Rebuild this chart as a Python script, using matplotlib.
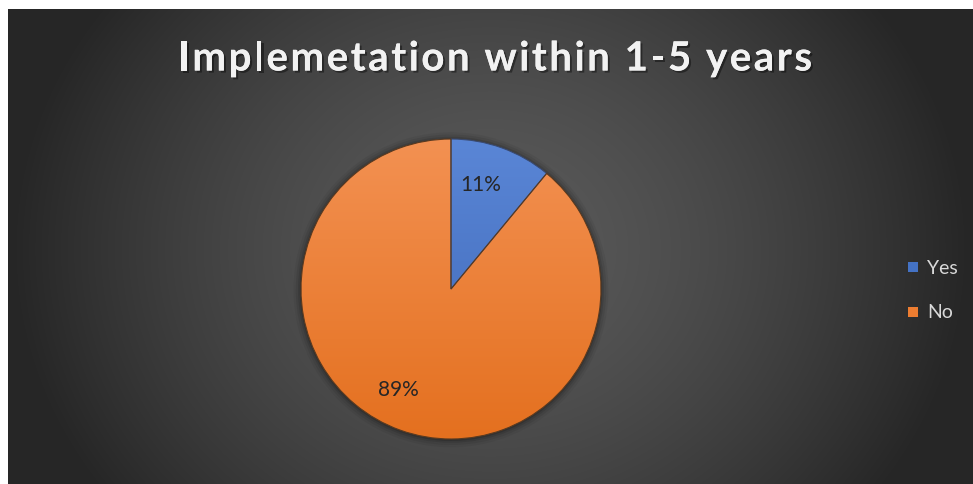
import numpy as np
import matplotlib
matplotlib.use("Agg")
import matplotlib.pyplot as plt
import matplotlib.patheffects as pe
from matplotlib.colors import LinearSegmentedColormap, to_rgb
from matplotlib.font_manager import FontProperties

title = "Implemetation within 1-5 years"
labels = ["Yes", "No"]
values = [11, 89]
colors = ["#4472C4", "#ED7D31"]
top_colors = ["#5A86D6", "#F39152"]
bot_colors = ["#3C66B6", "#E4701F"]

W, H = 973, 485
fig = plt.figure(figsize=(W / 100, H / 100), dpi=100)
fig.patch.set_facecolor("white")

# background panel with radial gradient
x0, y0 = 8, 0
bw, bh = W - 8, H - 10
bg = fig.add_axes([x0 / W, y0 / H, bw / W, bh / H])
bg.set_axis_off()
xx, yy = np.meshgrid(np.arange(bw), np.arange(bh))
cx, cy = 482, 240
d = np.sqrt(((xx - cx) / 480.0) ** 2 + ((yy - cy) / 420.0) ** 2)
c = 38 + 52 * np.clip(1 - d ** 1.5, 0, 1)
img = np.dstack([c, c, c]) / 255.0
bg.imshow(img, extent=[0, bw, 0, bh], aspect="auto", origin="upper")
bg.set_xlim(0, bw)
bg.set_ylim(0, bh)

# pie axes: center (451, 290) px from top, radius 150
R = 150
pcx, pcy = 451, 290
ax = fig.add_axes([(pcx - R) / W, (H - pcy - R) / H, 2 * R / W, 2 * R / H])
ax.set_axis_off()

# soft shadow
for rr, a in [(1.05, 0.05), (1.035, 0.07), (1.02, 0.1), (1.008, 0.15)]:
    ax.add_patch(plt.Circle((0.0, -0.005), rr, color="black", alpha=a, lw=0, zorder=0, clip_on=False))

wedges, texts = ax.pie(values, colors=colors, startangle=90, counterclock=False,
                       radius=1.0, wedgeprops=dict(linewidth=0.8, edgecolor="#5a3a20"))
wedges[0].set_edgecolor("#3a4a70")
for w, tc, bc in zip(wedges, top_colors, bot_colors):
    cmap = LinearSegmentedColormap.from_list("g", [to_rgb(bc), to_rgb(tc)])
    grad = np.linspace(0, 1, 256).reshape(-1, 1)
    im = ax.imshow(grad, extent=[-1, 1, -1, 1], origin="lower", cmap=cmap,
                   aspect="auto", zorder=1.5)
    im.set_clip_path(w)
    w.set_zorder(2)
    w.set_facecolor("none")

ax.set_xlim(-1, 1)
ax.set_ylim(-1, 1)
ax.set_aspect("auto")

# data labels
lab_font = dict(family="Lato", fontsize=15, color="#262626", ha="center", va="center", zorder=5)
fig.text(481 / W, 1 - 185 / H, f"{values[0]}%", **lab_font)
fig.text(398 / W, 1 - 390 / H, f"{values[1]}%", **lab_font)

# legend
for lab, col, ypx in zip(labels, colors, [268, 313]):
    sq = 10
    fig.patches.append(plt.Rectangle(((913 - sq / 2) / W, (H - ypx - sq / 2) / H), sq / W, sq / H,
                                     transform=fig.transFigure, facecolor=col, edgecolor="none",
                                     figure=fig))
    fig.text(927 / W, 1 - ypx / H, lab, family="Lato", fontsize=14, color="#D9D9D9",
             ha="left", va="center")

# title with letter spacing
fp = FontProperties(family="Lato", weight="bold", size=29)
renderer = fig.canvas.get_renderer()

def width(s):
    if not s:
        return 0.0
    w1, _, _ = renderer.get_text_width_height_descent(s + "|", fp, ismath=False)
    w2, _, _ = renderer.get_text_width_height_descent("|", fp, ismath=False)
    return w1 - w2

natural = width(title)
left_px, right_px = 178, 812
target = right_px - left_px
n = len(title)
spacing = (target - natural) / (n - 1)
for i, ch in enumerate(title):
    if ch == " ":
        continue
    xpos = left_px + width(title[:i]) + i * spacing
    fig.text(xpos / W, 1 - 60 / H, ch, color="#F2F2F2", ha="left", va="center",
             fontproperties=fp,
             path_effects=[pe.withSimplePatchShadow(offset=(1.5, -1.5), shadow_rgbFace="black", alpha=0.4),
                           pe.Normal()])

fig.savefig("out.png", dpi=100, facecolor=fig.get_facecolor())
